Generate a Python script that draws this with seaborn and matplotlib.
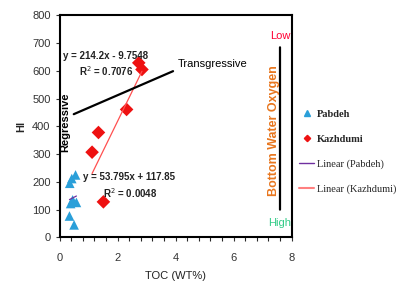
import numpy as np
import pandas as pd
import seaborn as sns
import matplotlib.pyplot as plt
from matplotlib.lines import Line2D
from matplotlib.ticker import MultipleLocator

# data
pabdeh_toc = [0.35, 0.42, 0.55, 0.38, 0.45, 0.58, 0.34, 0.50]
pabdeh_hi = [195, 212, 225, 122, 135, 126, 77, 45]
kazhdumi_toc = [2.73, 2.84, 2.31, 1.34, 1.12, 1.51]
kazhdumi_hi = [629, 605, 461, 378, 307, 128]

# fitted lines as printed on the chart
pab_fit = (53.795, 117.85)
kaz_fit = (214.2, -9.7548)

df = pd.DataFrame({
    'TOC': pabdeh_toc + kazhdumi_toc,
    'HI': pabdeh_hi + kazhdumi_hi,
    'Formation': ['Pabdeh'] * len(pabdeh_toc) + ['Kazhdumi'] * len(kazhdumi_toc),
})

sns.set_style('white')
plt.rcParams['font.family'] = ['Liberation Sans', 'DejaVu Sans']

fig = plt.figure(figsize=(4, 3.02), dpi=100)
ax = fig.add_axes([0.149, 0.214, 0.58, 0.735])

blue = '#2a9fd9'
red = '#ee1111'
sns.scatterplot(data=df, x='TOC', y='HI', hue='Formation', style='Formation',
                markers={'Pabdeh': '^', 'Kazhdumi': 'D'},
                palette={'Pabdeh': blue, 'Kazhdumi': red},
                s=48, edgecolor='none', legend=False, ax=ax)

xs = np.linspace(min(pabdeh_toc), max(pabdeh_toc), 10)
ax.plot(xs, pab_fit[0] * xs + pab_fit[1], color='#7030a0', lw=0.9)
xs = np.linspace(min(kazhdumi_toc), max(kazhdumi_toc), 10)
ax.plot(xs, kaz_fit[0] * xs + kaz_fit[1], color='#ff5050', lw=0.9)

ax.set_xlim(0, 8)
ax.set_ylim(0, 800)
ax.xaxis.set_major_locator(MultipleLocator(2))
ax.xaxis.set_minor_locator(MultipleLocator(0.4))
ax.yaxis.set_major_locator(MultipleLocator(100))
ax.tick_params(axis='both', which='major', direction='out', length=3, width=0.8,
               labelsize=8, colors='#333333', bottom=True, left=True)
ax.tick_params(axis='x', which='major', pad=8)
ax.tick_params(axis='x', which='minor', direction='out', length=3, width=0.8, bottom=True)
for sp in ax.spines.values():
    sp.set_color('black')
    sp.set_linewidth(1.5)

ax.set_xlabel('TOC (WT%)', fontsize=8, color='#222222', labelpad=6)
ax.set_ylabel('HI', fontsize=8, fontweight='bold', labelpad=4)

# equations
eq = dict(fontsize=7, fontweight='bold', color='#222222', va='center')
ax.text(0.12, 655, 'y = 214.2x - 9.7548', **eq)
ax.text(0.68, 598, 'R$^2$ = 0.7076', **eq)
ax.text(0.82, 217, 'y = 53.795x + 117.85', **eq)
ax.text(1.5, 160, 'R$^2$ = 0.0048', **eq)

# transgressive / regressive
ax.annotate('', xy=(0.40, 440), xytext=(4.0, 603),
            arrowprops=dict(arrowstyle='-', color='black', lw=1.6))
ax.text(4.08, 625, 'Transgressive', fontsize=8, color='black', va='center')
ax.text(0.21, 415, 'Regressive', fontsize=8, fontweight='bold', rotation=90,
        va='center', ha='center', color='black')

# bottom water oxygen scale
ax.annotate('', xy=(7.6, 90), xytext=(7.6, 695),
            arrowprops=dict(arrowstyle='-', color='black', lw=1.6))
ax.text(7.6, 725, 'Low', fontsize=8, color='#ff0033', ha='center', va='center')
ax.text(7.6, 52, 'High', fontsize=8, color='#33cc88', ha='center', va='center')
ax.text(7.4, 383, 'Bottom Water Oxygen', fontsize=9, fontweight='bold', rotation=90,
        color='#e8761e', ha='center', va='center')

handles = [
    Line2D([], [], marker='^', color=blue, ls='none', markersize=4.5),
    Line2D([], [], marker='D', color=red, ls='none', markersize=3.2),
    Line2D([], [], color='#7030a0', lw=1),
    Line2D([], [], color='#ff8080', lw=1.5),
]
leg = fig.legend(handles, ['Pabdeh', 'Kazhdumi', 'Linear (Pabdeh)', 'Linear (Kazhdumi)'],
                 loc='center left', bbox_to_anchor=(0.725, 0.497), frameon=False,
                 handlelength=1.4, handletextpad=0.3, labelspacing=1.5,
                 prop={'family': 'Liberation Serif', 'size': 7.5})
for t in leg.get_texts()[:2]:
    t.set_fontweight('bold')

fig.savefig('out.png', dpi=100)
